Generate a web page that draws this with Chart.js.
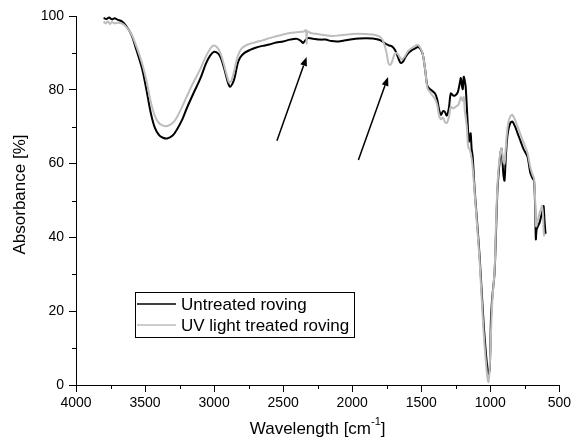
<!DOCTYPE html>
<html>
<head>
<meta charset="utf-8">
<script src="https://cdn.jsdelivr.net/npm/chart.js@4.4.1/dist/chart.umd.min.js"></script>
<style>
  html, body { margin: 0; padding: 0; background: #fff; }
  #wrap { width: 574px; height: 441px; }
</style>
</head>
<body>
<div id="wrap"><canvas id="ftirChart" width="574" height="441"></canvas></div>
<script>
// wavenumbers (cm-1) and absorbance (%)
const wnUntreated = [3800, 3780, 3760, 3740, 3720, 3700, 3670, 3640, 3600, 3560, 3520, 3490, 3460, 3430, 3400, 3370, 3340, 3300, 3270, 3230, 3200, 3150, 3100, 3060, 3030, 3000, 2970, 2950, 2925, 2900, 2885, 2865, 2850, 2830, 2810, 2780, 2740, 2700, 2650, 2600, 2550, 2500, 2450, 2400, 2370, 2355, 2340, 2320, 2280, 2230, 2193, 2150, 2100, 2050, 2000, 1950, 1900, 1850, 1800, 1770, 1750, 1730, 1710, 1690, 1670, 1650, 1635, 1615, 1595, 1565, 1540, 1524, 1505, 1488, 1470, 1455, 1430, 1400, 1385, 1370, 1357, 1343, 1329, 1315, 1300, 1286, 1270, 1257, 1235, 1221, 1213, 1205, 1199, 1192, 1185, 1178, 1165, 1155, 1149, 1142, 1135, 1127, 1113, 1095, 1077, 1060, 1045, 1030, 1015, 1005, 1000, 995, 985, 969, 958, 948, 936, 926, 919, 912, 905, 897, 890, 880, 870, 855, 840, 820, 800, 780, 760, 731, 710, 694, 683, 675, 670, 665, 655, 643, 630, 620, 614, 608, 600];
const untreated = [99.5, 99.2, 99.6, 99.1, 99.4, 99.0, 98.6, 97.5, 95.0, 90.5, 85.5, 80.0, 74.0, 69.8, 67.8, 67.0, 66.8, 67.6, 69.2, 72.0, 74.8, 79.0, 83.0, 87.0, 89.2, 90.3, 89.8, 88.5, 85.5, 82.0, 80.8, 81.8, 83.5, 87.0, 88.8, 90.0, 90.8, 91.4, 91.9, 92.3, 92.8, 93.1, 93.6, 93.8, 93.2, 92.7, 93.4, 94.0, 93.8, 93.6, 93.6, 93.2, 93.1, 93.4, 93.7, 93.9, 94.0, 93.9, 93.5, 92.8, 92.3, 92.0, 91.7, 90.8, 89.0, 87.3, 87.5, 88.8, 89.9, 90.8, 91.3, 91.6, 91.0, 89.5, 85.0, 81.0, 80.0, 79.0, 77.5, 74.5, 73.2, 74.2, 74.0, 73.0, 75.0, 79.0, 78.5, 78.4, 79.4, 81.8, 83.2, 81.0, 80.2, 83.5, 82.5, 80.8, 72.0, 66.0, 67.2, 68.2, 64.0, 61.8, 52.8, 44.0, 34.8, 24.0, 15.0, 8.0, 3.0, 4.0, 9.0, 18.0, 24.0, 30.4, 42.0, 52.8, 59.0, 62.8, 64.0, 61.0, 57.0, 55.4, 60.0, 66.0, 69.0, 71.0, 71.4, 70.0, 68.0, 66.0, 64.0, 61.9, 57.5, 56.0, 55.4, 48.0, 39.5, 42.0, 43.0, 44.0, 46.0, 47.5, 48.5, 45.0, 41.0];

const wnTreated = [3800, 3785, 3770, 3755, 3740, 3720, 3700, 3670, 3640, 3600, 3560, 3520, 3490, 3460, 3430, 3400, 3370, 3340, 3300, 3270, 3230, 3200, 3150, 3100, 3060, 3030, 3006, 2980, 2955, 2930, 2905, 2891, 2875, 2855, 2830, 2800, 2760, 2700, 2650, 2600, 2550, 2500, 2450, 2400, 2350, 2335, 2330, 2325, 2300, 2250, 2193, 2150, 2100, 2050, 2000, 1950, 1900, 1850, 1800, 1780, 1765, 1750, 1738, 1725, 1712, 1700, 1689, 1670, 1655, 1640, 1620, 1595, 1565, 1540, 1524, 1505, 1488, 1470, 1455, 1430, 1400, 1385, 1370, 1357, 1343, 1329, 1315, 1300, 1286, 1270, 1250, 1230, 1213, 1200, 1192, 1185, 1170, 1160, 1149, 1142, 1130, 1113, 1095, 1077, 1060, 1045, 1030, 1020, 1013, 1005, 995, 985, 969, 958, 948, 936, 926, 919, 912, 905, 897, 890, 880, 870, 855, 840, 820, 800, 780, 760, 731, 710, 694, 683, 675, 668, 661, 650, 640, 630, 626, 618, 611, 605];
const treated = [98.5, 98.0, 98.6, 97.8, 98.4, 98.0, 98.2, 98.0, 97.2, 95.2, 91.5, 87.0, 82.5, 77.0, 73.0, 71.0, 70.3, 70.2, 71.0, 72.5, 75.5, 78.0, 82.0, 85.6, 89.0, 91.0, 92.0, 91.6, 90.0, 87.0, 83.5, 82.0, 82.5, 85.0, 89.0, 91.2, 92.2, 92.9, 93.4, 94.0, 94.5, 95.0, 95.4, 95.6, 95.8, 96.2, 92.5, 95.8, 95.4, 95.1, 94.8, 94.6, 94.7, 94.9, 95.1, 95.2, 95.1, 95.0, 94.4, 93.5, 92.0, 89.8, 87.3, 86.7, 87.5, 89.0, 89.9, 89.7, 88.8, 88.2, 89.0, 90.5, 91.4, 92.0, 92.2, 91.3, 89.5, 85.0, 80.5, 79.0, 77.5, 76.0, 73.0, 72.0, 72.5, 71.3, 71.0, 72.5, 75.4, 75.0, 75.4, 76.0, 78.0, 77.0, 78.0, 74.5, 70.0, 64.5, 63.7, 62.9, 60.0, 52.0, 43.0, 33.5, 22.0, 12.5, 5.5, 1.8, 0.8, 4.0, 14.0, 23.0, 31.0, 44.0, 54.0, 60.5, 63.0, 64.2, 62.5, 60.5, 60.0, 63.0, 68.0, 71.0, 72.8, 73.2, 71.8, 69.8, 67.8, 65.8, 63.0, 59.0, 57.0, 56.0, 50.0, 43.0, 44.0, 45.5, 47.0, 48.0, 48.6, 46.0, 40.5, 41.0];

const seriesNames = ['Untreated roving', 'UV light treated roving'];
const seriesColors = ['#000000', '#bdbdbd'];

const xTickLabels = [4000, 3500, 3000, 2500, 2000, 1500, 1000, 500];
const yTickLabels = [0, 20, 40, 60, 80, 100];

// arrows pointing at the changed bands, in data units [wavenumber, %]
const arrows = [
    { from: [2545, 66.2], to: [2330, 88.9] },
    { from: [1955, 61.0], to: [1740, 83.5] }
];

const FONT = 'Arial, "Liberation Sans", sans-serif';

function toPoints(xs, ys) {
    return xs.map((x, i) => ({ x: x, y: ys[i] }));
}

// major ticks get drawn by chart.js, minor (unlabelled) ones are shorter
function majorTickColor(labels) {
    return c => (c.tick && labels.includes(c.tick.value)) ? '#000' : 'rgba(0,0,0,0)';
}

const extrasPlugin = {
    id: 'extras',
    afterDatasetsDraw(chart) {
        const ctx = chart.ctx;
        const xs = chart.scales.x;
        const ys = chart.scales.y;
        const area = chart.chartArea;

        // minor ticks
        ctx.save();
        ctx.strokeStyle = '#000';
        ctx.lineWidth = 1;
        ctx.beginPath();
        xs.ticks.forEach(t => {
            if (xTickLabels.includes(t.value)) return;
            const px = Math.round(xs.getPixelForValue(t.value)) + 0.5;
            ctx.moveTo(px, area.bottom);
            ctx.lineTo(px, area.bottom + 4);
        });
        ys.ticks.forEach(t => {
            if (yTickLabels.includes(t.value)) return;
            const py = Math.round(ys.getPixelForValue(t.value)) + 0.5;
            ctx.moveTo(area.left, py);
            ctx.lineTo(area.left - 4, py);
        });
        ctx.stroke();
        ctx.restore();

        // arrows
        ctx.save();
        ctx.strokeStyle = '#000';
        ctx.fillStyle = '#000';
        ctx.lineWidth = 1.5;
        arrows.forEach(a => {
            const x1 = xs.getPixelForValue(a.from[0]);
            const y1 = ys.getPixelForValue(a.from[1]);
            const x2 = xs.getPixelForValue(a.to[0]);
            const y2 = ys.getPixelForValue(a.to[1]);
            const ang = Math.atan2(y2 - y1, x2 - x1);
            const hl = 9, hw = 3.5;
            const bx = x2 - hl * Math.cos(ang);
            const by = y2 - hl * Math.sin(ang);
            ctx.beginPath();
            ctx.moveTo(x1, y1);
            ctx.lineTo(bx, by);
            ctx.stroke();
            ctx.beginPath();
            ctx.moveTo(x2, y2);
            ctx.lineTo(bx + hw * Math.sin(ang), by - hw * Math.cos(ang));
            ctx.lineTo(bx - hw * Math.sin(ang), by + hw * Math.cos(ang));
            ctx.closePath();
            ctx.fill();
        });
        ctx.restore();

        // legend box
        ctx.save();
        const lx = area.left + 59, ly = area.top + 276;
        const lw = 219, lh = 45;
        ctx.fillStyle = '#fff';
        ctx.fillRect(lx, ly, lw, lh);
        ctx.strokeStyle = '#000';
        ctx.lineWidth = 1;
        ctx.strokeRect(lx + 0.5, ly + 0.5, lw, lh);
        ctx.font = '17px ' + FONT;
        ctx.textBaseline = 'middle';
        seriesNames.forEach((name, i) => {
            const cy = ly + 12 + i * 21;
            ctx.strokeStyle = seriesColors[i];
            ctx.lineWidth = 1.5;
            ctx.beginPath();
            ctx.moveTo(lx + 2, cy);
            ctx.lineTo(lx + 41, cy);
            ctx.stroke();
            ctx.fillStyle = '#000';
            ctx.fillText(name, lx + 46, cy + 1);
        });
        ctx.restore();

        // axis titles
        ctx.save();
        ctx.fillStyle = '#000';
        ctx.textBaseline = 'middle';
        const main = 'Wavelength [cm';
        const sup = '-1';
        const tail = ']';
        ctx.font = '17px ' + FONT;
        const w1 = ctx.measureText(main).width;
        const w3 = ctx.measureText(tail).width;
        ctx.font = '11px ' + FONT;
        const w2 = ctx.measureText(sup).width;
        const total = w1 + w2 + w3;
        const cx = (area.left + area.right) / 2;
        const ty = area.bottom + 44;
        const sx = cx - total / 2;
        ctx.textAlign = 'left';
        ctx.font = '17px ' + FONT;
        ctx.fillText(main, sx, ty);
        ctx.font = '11px ' + FONT;
        ctx.fillText(sup, sx + w1, ty - 7);
        ctx.font = '17px ' + FONT;
        ctx.fillText(tail, sx + w1 + w2, ty);

        ctx.translate(20, (area.top + area.bottom) / 2 - 6);
        ctx.rotate(-Math.PI / 2);
        ctx.textAlign = 'center';
        ctx.fillText('Absorbance [%]', 0, 0);
        ctx.restore();
    }
};

document.addEventListener('DOMContentLoaded', function() {
    const ctx = document.getElementById('ftirChart').getContext('2d');
    new Chart(ctx, {
        type: 'line',
        data: {
            datasets: [
                {
                    label: seriesNames[1],
                    data: toPoints(wnTreated, treated),
                    borderColor: seriesColors[1],
                    borderWidth: 2,
                    pointRadius: 0,
                    tension: 0.3,
                    fill: false
                },
                {
                    label: seriesNames[0],
                    data: toPoints(wnUntreated, untreated),
                    borderColor: seriesColors[0],
                    borderWidth: 2,
                    pointRadius: 0,
                    tension: 0.3,
                    fill: false
                }
            ]
        },
        options: {
            responsive: false,
            animation: false,
            layout: { padding: { top: 16, right: 12, left: 0, bottom: 0 } },
            plugins: {
                legend: { display: false },
                tooltip: { enabled: false }
            },
            scales: {
                x: {
                    type: 'linear',
                    reverse: true,
                    min: 500,
                    max: 4000,
                    grid: {
                        display: true,
                        drawOnChartArea: false,
                        drawTicks: true,
                        tickLength: 7,
                        tickColor: majorTickColor(xTickLabels)
                    },
                    border: { display: true, color: '#000', width: 1 },
                    ticks: {
                        stepSize: 250,
                        autoSkip: false,
                        maxRotation: 0,
                        padding: 3,
                        color: '#000',
                        font: { family: FONT, size: 14 },
                        callback: v => xTickLabels.includes(v) ? String(v) : ''
                    },
                    afterFit: s => { s.height = 56; }
                },
                y: {
                    min: 0,
                    max: 100,
                    grid: {
                        display: true,
                        drawOnChartArea: false,
                        drawTicks: true,
                        tickLength: 7,
                        tickColor: majorTickColor(yTickLabels)
                    },
                    border: { display: true, color: '#000', width: 1 },
                    ticks: {
                        stepSize: 10,
                        autoSkip: false,
                        padding: 5,
                        color: '#000',
                        font: { family: FONT, size: 14 },
                        callback: v => yTickLabels.includes(v) ? String(v) : ''
                    },
                    afterFit: s => { s.width = 76; }
                }
            }
        },
        plugins: [extrasPlugin]
    });
});
</script>
</body>
</html>
